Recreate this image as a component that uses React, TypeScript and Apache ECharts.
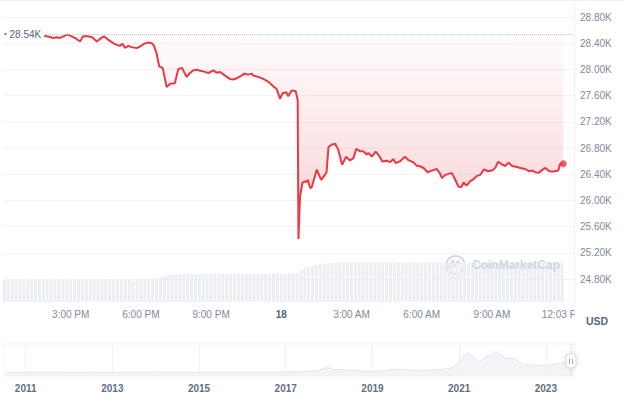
import React, { useEffect, useRef } from "react";
import * as echarts from "echarts";

// ---- price (minutes since 00:00 on the 17th) ----
const TIME_MIN = [
  730, 770, 808, 830, 838, 847, 855, 866, 873, 881, 892, 903, 915, 924, 932, 943, 954, 967, 975, 985,
  996, 1008, 1018, 1026, 1033, 1039, 1048, 1056, 1069, 1078, 1088, 1099, 1108, 1114, 1120, 1127, 1136, 1141, 1146, 1155,
  1167, 1176, 1186, 1197, 1206, 1214, 1223, 1232, 1240, 1253, 1266, 1274, 1283, 1296, 1308, 1317, 1326, 1338, 1345, 1355,
  1364, 1368, 1381, 1394, 1407, 1420, 1428, 1437, 1443, 1453, 1458, 1467, 1477, 1482, 1484, 1488, 1494, 1499, 1505, 1508,
  1514, 1518, 1531, 1542, 1550, 1556, 1561, 1569, 1578, 1586, 1596, 1606, 1616, 1625, 1632, 1642, 1650, 1659, 1663, 1672,
  1682, 1691, 1699, 1710, 1719, 1727, 1733, 1744, 1757, 1767, 1779, 1787, 1796, 1805, 1815, 1826, 1838, 1846, 1852, 1861,
  1877, 1886, 1894, 1902, 1907, 1915, 1924, 1933, 1942, 1950, 1960, 1970, 1982, 1989, 1996, 2005, 2014, 2023, 2032, 2044,
  2053, 2065, 2075, 2084, 2091, 2100, 2110, 2117, 2127, 2138, 2150, 2155, 2163,
];
const PRICE = [
  28540, 28520, 28530, 28515, 28505, 28495, 28480, 28490, 28480, 28505, 28530, 28505, 28465, 28425, 28505, 28505, 28495, 28425, 28465, 28505,
  28455, 28405, 28375, 28360, 28390, 28330, 28360, 28340, 28325, 28350, 28390, 28410, 28400, 28355, 28250, 28045, 28020, 27875, 27730, 27780,
  27790, 28005, 28020, 27885, 27945, 27985, 27995, 27980, 27970, 27945, 27985, 27950, 27960, 27905, 27855, 27845, 27865, 27905, 27935, 27920,
  27935, 27905, 27885, 27855, 27810, 27740, 27700, 27550, 27635, 27650, 27590, 27680, 27665, 27535, 25410, 26060, 26265, 26290, 26285, 26315,
  26190, 26200, 26470, 26315, 26375, 26430, 26815, 26850, 26865, 26775, 26545, 26665, 26610, 26645, 26785, 26750, 26750, 26700, 26725, 26670,
  26745, 26680, 26595, 26605, 26585, 26630, 26570, 26595, 26665, 26610, 26580, 26530, 26520, 26495, 26430, 26455, 26480, 26420, 26340, 26390,
  26420, 26315, 26210, 26205, 26275, 26225, 26290, 26325, 26375, 26390, 26475, 26445, 26460, 26500, 26590, 26555, 26525, 26575, 26525, 26510,
  26495, 26480, 26445, 26455, 26430, 26420, 26470, 26495, 26445, 26440, 26455, 26555, 26560,
];
const BASELINE = 28540;

// ---- volume (10-minute bars) ----
const VOL_START = 730;
const VOL_STEP = 10;
const VOLUME = [
  13.3, 13.4, 13.4, 13.5, 13.4, 13.3, 13.4, 13.4, 13.5, 13.5,
  13.4, 13.4, 13.3, 13.4, 13.5, 13.4, 13.4, 13.4, 13.5, 13.4,
  13.4, 13.5, 13.5, 13.4, 13.4, 13.5, 13.5, 13.6, 13.5, 13.5,
  13.5, 13.6, 13.5, 12.9, 13.6, 13.6, 13.7, 13.7, 13.8,
  14.4, 15.3, 15.9, 16.3, 16.6, 16.8,
  16.9, 17.0, 17.0, 17.0, 16.9, 17.0, 17.0, 17.1, 17.0, 17.0,
  17.0, 17.1, 17.1, 17.0, 17.0, 17.1, 17.1, 17.1, 17.0, 17.1,
  17.1, 17.2, 17.1, 17.1, 17.2, 17.2, 17.1, 17.2, 17.2, 17.3,
  17.8, 19.2, 20.6, 21.5, 22.1, 22.6, 23.0, 23.3, 23.6, 23.8, 23.9,
  24.0, 24.0, 24.1, 24.1, 24.1, 24.2, 24.2, 24.1, 24.1, 24.2,
  24.2, 24.2, 24.1, 24.1, 24.1, 24.2, 24.1, 24.1, 24.0, 24.0,
  24.0, 24.1, 24.0, 24.0, 24.0, 24.0, 23.9, 24.0, 24.0, 23.9,
  23.9, 23.9, 23.9, 23.9, 23.9, 23.8, 23.9, 23.9, 23.8, 23.8,
  23.8, 23.8, 23.9, 23.8, 23.8, 23.8, 23.8, 23.7, 23.8, 23.8,
  23.8, 23.7, 23.7, 23.8, 23.7, 23.7, 23.7, 23.8,
];

// ---- main x-axis tick labels (minutes) ----
const X_TICKS = [900, 1080, 1260, 1440, 1620, 1800, 1980, 2163];
const START_DAY = 17;

// ---- navigator (all-time history, price in K USD) ----
const NAV_YEARS = [
  2010.55, 2011.45, 2012.5, 2013.3, 2013.92, 2014.5, 2015.1, 2016.0, 2016.9, 2017.4,
  2017.7, 2017.85, 2017.96, 2018.1, 2018.4, 2018.85, 2019.2, 2019.5, 2019.8, 2020.2,
  2020.5, 2020.75, 2020.88, 2021.0, 2021.08, 2021.13, 2021.2, 2021.27, 2021.33, 2021.4,
  2021.47, 2021.55, 2021.62, 2021.7, 2021.78, 2021.85, 2021.9, 2021.98, 2022.05, 2022.15,
  2022.25, 2022.33, 2022.42, 2022.5, 2022.6, 2022.7, 2022.85, 2023.0, 2023.1, 2023.2,
  2023.3, 2023.42, 2023.52, 2023.6, 2023.63,
];
const NAV_PRICE = [
  0.07, 0.3, 0.1, 0.2, 1.1, 0.6, 0.25, 0.4, 0.8, 2.5,
  5, 10, 16.5, 10, 7.5, 4, 4.5, 10.5, 8, 6,
  9.5, 12, 19, 34, 47, 58, 64, 56, 52, 38,
  36, 44, 50, 55, 62, 68, 62, 56, 48, 45,
  46, 40, 31, 26, 25, 24, 23, 22, 24, 27,
  30, 33, 31, 30, 29,
];
const NAV_TICKS = [2011, 2013, 2015, 2017, 2019, 2021, 2023];

const FONT = "'Liberation Sans', Arial, sans-serif";
const fmtK = (v: number) => (v / 1000).toFixed(2) + "K";
const fmtTime = (m: number) => {
  if (m % 1440 === 0) return "{b|" + (START_DAY + m / 1440) + "}";
  const h = Math.floor(m / 60) % 24;
  const mm = m % 60;
  const ap = h < 12 ? "AM" : "PM";
  const h12 = h % 12 === 0 ? 12 : h % 12;
  return `${h12}:${mm < 10 ? "0" + mm : mm} ${ap}`;
};

export default function App() {
  const ref = useRef<HTMLDivElement>(null);
  useEffect(() => {
    if (!ref.current) return;
    const chart = echarts.init(ref.current, undefined, { renderer: "svg" });
    const priceData = TIME_MIN.map((t, i) => [t, PRICE[i]]);
    const volData = VOLUME.map((v, i) => [VOL_START + i * VOL_STEP, v]);
    const navData = NAV_YEARS.map((y, i) => [y, NAV_PRICE[i]]);
    const lastT = TIME_MIN[TIME_MIN.length - 1];
    const lastP = PRICE[PRICE.length - 1];

    const option: any = {
      animation: false,
      textStyle: { fontFamily: FONT },
      grid: [
        { left: 4, right: 50, top: 17, height: 288.2 },
        { left: 4, right: 50, top: 344, height: 32, show: true, borderColor: "#eff2f5", borderWidth: 1 },
      ],
      xAxis: [
        {
          type: "value", gridIndex: 0, min: 729, max: 2190.5,
          axisLine: { show: false }, axisTick: { show: false }, splitLine: { show: false },
          axisLabel: {
            customValues: X_TICKS, formatter: fmtTime, margin: 4, fontSize: 10, color: "#808a9d", fontFamily: FONT,
            rich: { b: { fontWeight: "bold", color: "#58667e", fontSize: 10, fontFamily: FONT } },
          },
        },
        {
          type: "value", gridIndex: 1, min: 2010.5, max: 2023.65,
          axisLine: { show: false }, axisTick: { show: false }, splitLine: { show: false },
          axisLabel: {
            customValues: NAV_TICKS, formatter: (v: number) => String(v), margin: 7, fontSize: 10,
            fontWeight: "bold", color: "#616e85", fontFamily: FONT,
          },
        },
      ],
      yAxis: [
        {
          type: "value", gridIndex: 0, position: "right", min: 24400, max: 28800, interval: 400,
          axisLine: { show: true, lineStyle: { color: "#eff2f5" } }, axisTick: { show: false },
          splitLine: { show: true, showMinLine: false, lineStyle: { color: "#f1f3f6" } },
          axisLabel: {
            margin: 6, fontSize: 10, color: "#808a9d", fontFamily: FONT,
            formatter: (v: number) => (v < 24800 ? "" : fmtK(v)),
          },
        },
        { type: "value", gridIndex: 0, min: -2, max: 174, show: false },
        { type: "value", gridIndex: 1, min: -12, max: 93, show: false },
      ],
      series: [
        {
          type: "bar", xAxisIndex: 0, yAxisIndex: 1, data: volData, barWidth: 3,
          itemStyle: { color: "#ebeef3" }, silent: true, z: 1,
        },
        {
          type: "line", xAxisIndex: 0, yAxisIndex: 0, data: priceData, showSymbol: false, z: 3,
          lineStyle: { color: "#ea3943", width: 2 },
          areaStyle: {
            origin: BASELINE,
            color: new echarts.graphic.LinearGradient(0, 0, 0, 1, [
              { offset: 0, color: "rgba(234,57,67,0.02)" },
              { offset: 0.6, color: "rgba(234,57,67,0.2)" },
              { offset: 1, color: "rgba(234,57,67,0.36)" },
            ]),
          },
          markLine: {
            silent: true, symbol: ["none", "none"], animation: false,
            data: [
              { yAxis: BASELINE, lineStyle: { color: "#c6ccd7", type: "dotted", width: 1 }, label: { show: false } },
              {
                yAxis: lastP, lineStyle: { opacity: 0, width: 0 },
                label: {
                  show: true, position: "end", distance: 0, formatter: fmtK(lastP),
                  backgroundColor: "#ea3943", color: "#fff", fontWeight: "bold", fontSize: 11,
                  fontFamily: FONT, padding: [2, 5], lineHeight: 11, borderRadius: 1,
                },
              },
            ],
          },
        },
        {
          type: "scatter", xAxisIndex: 0, yAxisIndex: 0, data: [[lastT, lastP]], symbolSize: 7,
          itemStyle: { color: "#ea3943" }, z: 4, silent: true,
        },
        {
          type: "line", xAxisIndex: 1, yAxisIndex: 2, data: navData, showSymbol: false, silent: true,
          lineStyle: { width: 1, color: "#e2e6ec" }, areaStyle: { color: "#eceff3", origin: "start" },
          markLine: {
            silent: true, symbol: ["none", "none"], label: { show: false },
            lineStyle: { color: "#eff2f5", type: "solid", width: 1 },
            data: NAV_TICKS.map((y) => ({ xAxis: y })),
          },
        },
      ],
    };
    chart.setOption(option);

    const pb = chart.convertToPixel({ seriesIndex: 1 }, [TIME_MIN[0], BASELINE]) as number[];
    const yb = pb[1];
    chart.setOption({
      graphic: [
        { type: "line", z: 50, shape: { x1: 0, y1: 0.5, x2: 624, y2: 0.5 }, style: { stroke: "#eff2f5", lineWidth: 1 } },
        { type: "line", z: 50, shape: { x1: 574.5, y1: 0, x2: 574.5, y2: 17 }, style: { stroke: "#eff2f5", lineWidth: 1 } },
        {
          type: "text", z: 100, x: 6.5, y: yb,
          style: {
            text: fmtK(BASELINE), fill: "#58667e", font: `10px ${FONT}`, align: "left", verticalAlign: "middle",
            backgroundColor: "#ffffff", padding: [3, 3],
          },
        },
        {
          type: "group", z: 60, x: 455.5, y: 265,
          children: [
            { type: "circle", shape: { cx: 0, cy: 0, r: 9 }, style: { fill: "none", stroke: "#d3d8e1", lineWidth: 2 } },
            {
              type: "polyline",
              shape: { points: [[-5, 4], [-5, -1], [-2.5, -4], [0, 1], [2.5, -4], [5, -1], [5, 3]] },
              style: { fill: "none", stroke: "#d3d8e1", lineWidth: 2 },
            },
          ],
        },
        {
          type: "text", z: 60, x: 472, y: 265,
          style: { text: "CoinMarketCap", fill: "#d3d8e1", font: `bold 12px ${FONT}`, align: "left", verticalAlign: "middle" },
        },
        { type: "rect", z: 100, shape: { x: 574.5, y: 307, width: 11, height: 16 }, style: { fill: "#ffffff" } },
        {
          type: "text", z: 101, x: 586, y: 321,
          style: { text: "USD", fill: "#58667e", font: `bold 10.5px ${FONT}`, align: "left", verticalAlign: "middle" },
        },
        { type: "line", z: 90, shape: { x1: 571, y1: 344, x2: 571, y2: 376 }, style: { stroke: "#dfe3ea", lineWidth: 1 } },
        {
          type: "rect", z: 95, shape: { x: 566, y: 354, width: 10, height: 14, r: 4 },
          style: { fill: "#ffffff", stroke: "#d9dee6", lineWidth: 1, shadowBlur: 4, shadowColor: "rgba(88,102,126,0.25)" },
        },
        { type: "line", z: 96, shape: { x1: 569.5, y1: 358.5, x2: 569.5, y2: 364 }, style: { stroke: "#a1a7bb", lineWidth: 1 } },
        { type: "line", z: 96, shape: { x1: 572.5, y1: 358.5, x2: 572.5, y2: 364 }, style: { stroke: "#a1a7bb", lineWidth: 1 } },
      ],
    });

    return () => chart.dispose();
  }, []);

  return (
    <div
      ref={ref}
      style={{ position: "absolute", left: 0, top: 0, width: 624, height: 403, background: "#ffffff" }}
    />
  );
}
